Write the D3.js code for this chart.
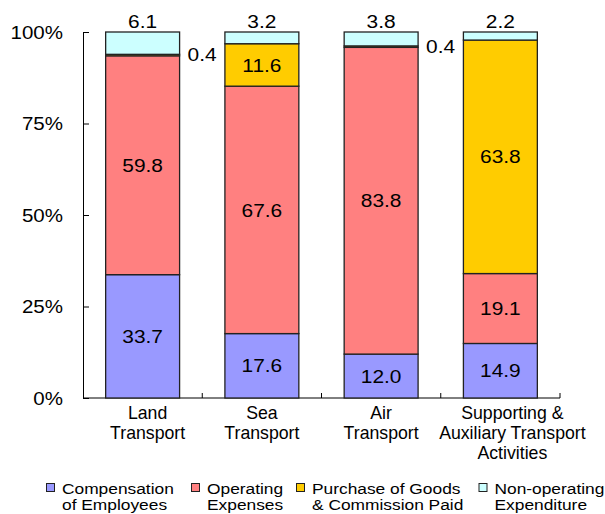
<!DOCTYPE html>
<html><head><meta charset="utf-8">
<script src="https://cdn.jsdelivr.net/npm/d3@7"></script>
<style>
body{margin:0;background:#fff;}
svg{display:block;font-family:"Liberation Sans",Arial,sans-serif;}
</style></head>
<body><svg id="c" width="605" height="514"></svg>
<script>
const categories = [["Land","Transport"],["Sea","Transport"],["Air","Transport"],["Supporting &","Auxiliary Transport","Activities"]];
const seriesNames = [["Compensation","of Employees"],["Operating","Expenses"],["Purchase of Goods","& Commission Paid"],["Non-operating","Expenditure"]];
const compensation = [33.7, 17.6, 12.0, 14.9];
const operating = [59.8, 67.6, 83.8, 19.1];
const purchase = [0.4, 11.6, 0.4, 63.8];
const nonOperating = [6.1, 3.2, 3.8, 2.2];
const yTicks = [0, 25, 50, 75, 100];
const colors = ["#9999FF", "#FF8080", "#FFCC00", "#CCFFFF"];

// layout-only settings
const labelDx = [5, 0, 0, 12];
const legX = [46.5, 191.5, 296.5, 479];

const series = [compensation, operating, purchase, nonOperating];
const svg = d3.select("#c");
const x = d3.scaleBand().domain(d3.range(categories.length)).range([83, 560]).paddingInner(0.38).paddingOuter(0.19);
const y = d3.scaleLinear().domain([0, 100]).range([398, 32]);

function stretched(g, tx, ty, s) {
  return g.append("text").attr("transform", `translate(${tx},${ty}) scale(${s},1)`);
}

// y axis
const ya = svg.append("g").attr("transform", `translate(${x.range()[0]},0)`)
  .call(d3.axisLeft(y).tickValues(yTicks).tickFormat(d => d + "%").tickSize(-6).tickSizeOuter(0).tickPadding(20));
ya.selectAll("text").attr("font-size", 19).attr("fill", "#000").attr("font-family", "Liberation Sans, Arial, sans-serif")
  .attr("transform", "translate(-20,0) scale(1.08,1) translate(20,0)");
ya.selectAll("line,path").attr("stroke", "#000").attr("stroke-width", 1);

// x axis
const xg = svg.append("g");
xg.append("line").attr("x1", x.range()[0]).attr("x2", x.range()[1]).attr("y1", y(0)).attr("y2", y(0)).attr("stroke", "#000");
d3.range(1, categories.length + 1).forEach(i => {
  const xx = x.range()[0] + i * x.step();
  xg.append("line").attr("x1", xx).attr("x2", xx).attr("y1", y(0)).attr("y2", y(0) - 5).attr("stroke", "#000");
});
categories.forEach((lines, i) => {
  const t = xg.append("text").attr("text-anchor", "middle").attr("font-size", 17.7).attr("fill", "#000");
  lines.forEach((l, j) => t.append("tspan").attr("x", x(i) + x.bandwidth() / 2 + labelDx[i]).attr("y", y(0) + 21 + j * 20).text(l));
});

// bars
const bars = svg.append("g");
categories.forEach((c, i) => {
  let cum = 0;
  series.forEach((s, k) => {
    const v = s[i];
    const y0 = cum, y1 = cum + v;
    cum = y1;
    bars.append("rect").attr("x", x(i)).attr("width", x.bandwidth())
      .attr("y", y(y1)).attr("height", y(y0) - y(y1))
      .attr("fill", colors[k]).attr("stroke", "#222").attr("stroke-width", 1.3);
  });
});
// labels
const lab = svg.append("g").attr("font-size", 19).attr("fill", "#000");
const sx = 1.1;
categories.forEach((c, i) => {
  let cum = 0;
  series.forEach((s, k) => {
    const v = s[i];
    const y0 = cum, y1 = cum + v;
    cum = y1;
    const txt = v.toFixed(1);
    if (k === series.length - 1) {
      stretched(lab, x(i) + x.bandwidth() / 2, y(y1) - 4, sx).attr("text-anchor", "middle").text(txt);
    } else if (v < 1) {
      stretched(lab, x(i) + x.bandwidth() + 8, y(y1), sx).attr("dy", "0.35em").text(txt);
    } else {
      stretched(lab, x(i) + x.bandwidth() / 2, y((y0 + y1) / 2), sx).attr("dy", "0.35em").attr("text-anchor", "middle").text(txt);
    }
  });
});

// legend
const lg = svg.append("g").attr("font-size", 15.5).attr("fill", "#000");
seriesNames.forEach((n, k) => {
  lg.append("rect").attr("x", legX[k]).attr("y", 483.5).attr("width", 8).attr("height", 8)
    .attr("fill", colors[k]).attr("stroke", "#222").attr("stroke-width", 1);
  n.forEach((l, j) => stretched(lg, legX[k] + 15.5, 493.5 + j * 16.5, 1.12).text(l));
});
</script></body></html>
